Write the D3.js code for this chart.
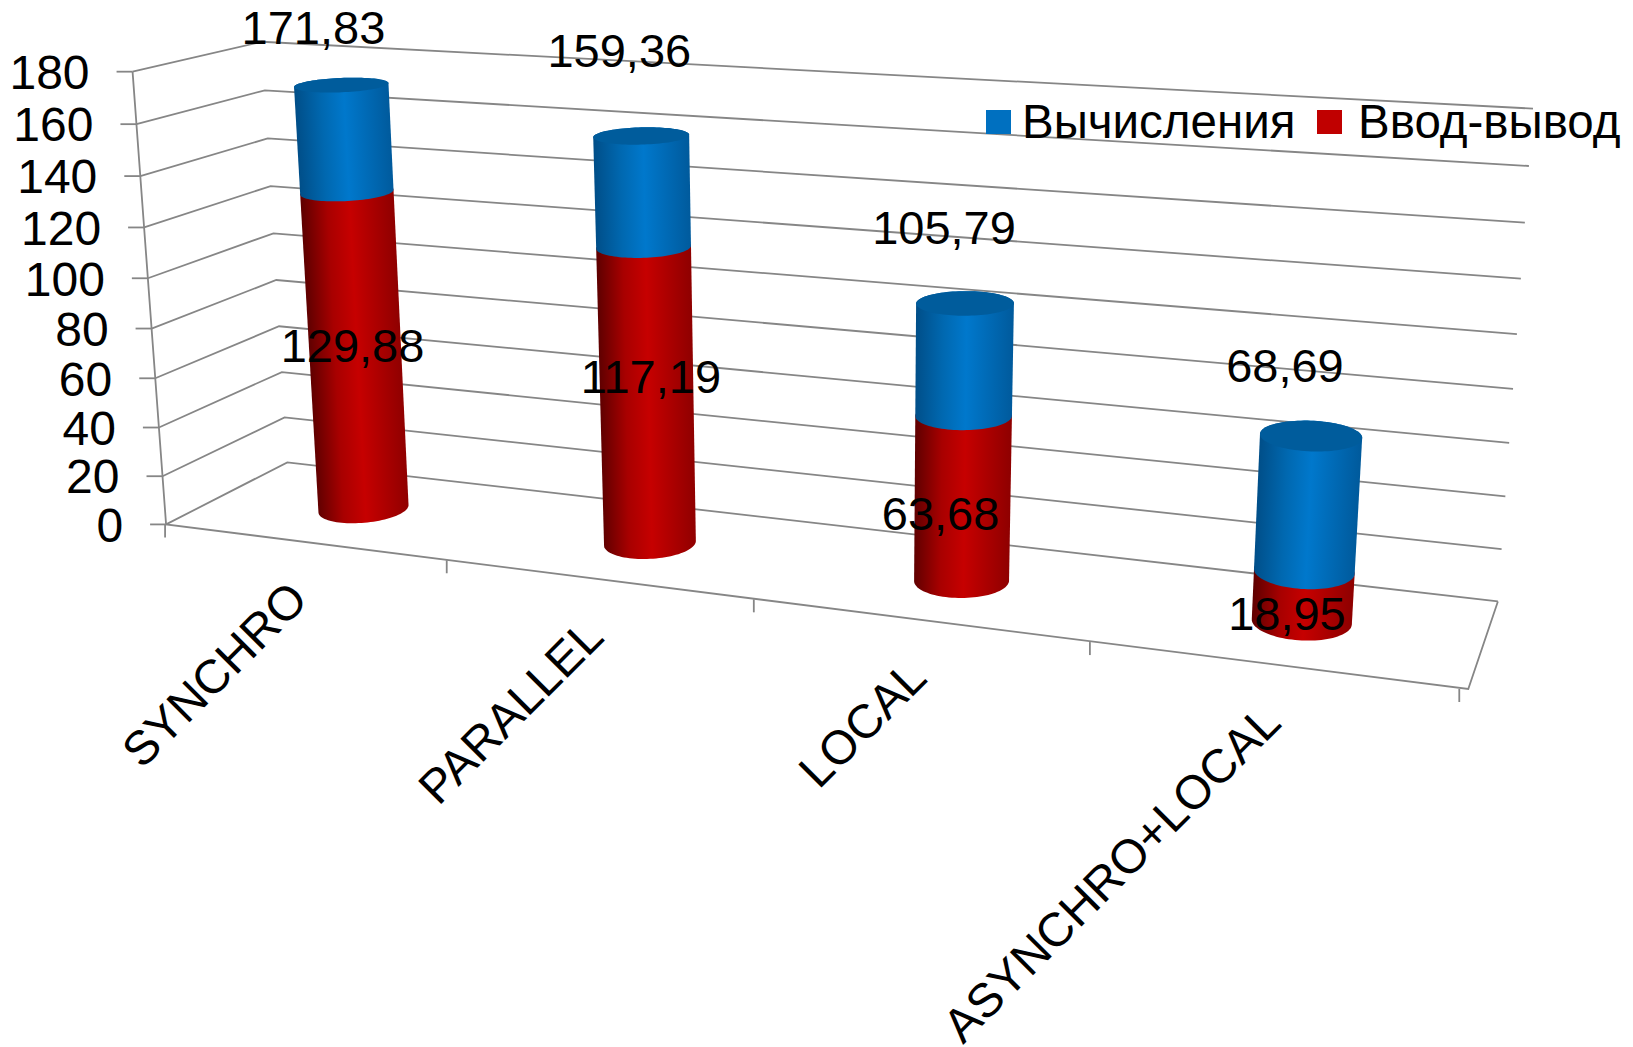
<!DOCTYPE html>
<html lang="ru">
<head>
<meta charset="utf-8">
<title>Вычисления и ввод-вывод</title>
<script src="https://cdn.jsdelivr.net/npm/d3@7"></script>
<style>
  html, body { margin: 0; background: #fff; }
  svg { display: block; }
  text { font-family: "Liberation Sans", Arial, sans-serif; fill: #000; }
</style>
</head>
<body>
<svg id="chart" width="1633" height="1047"></svg>
<script>
// Series values
const categories = ["SYNCHRO", "PARALLEL", "LOCAL", "ASYNCHRO+LOCAL"];
const ioValues = [129.88, 117.19, 63.68, 18.95];
const totalValues = [171.83, 159.36, 105.79, 68.69];
const ioLabels = ["129,88", "117,19", "63,68", "18,95"];
const totalLabels = ["171,83", "159,36", "105,79", "68,69"];
const valueTicks = [0, 20, 40, 60, 80, 100, 120, 140, 160, 180];
const legendNames = ["Вычисления", "Ввод-вывод"];

// Layout: pixel offsets of the value labels from their anchor on the cylinder axis
const totalNudge = [[-28, -58], [-22, -86], [-21, -76], [-26, -71]];
const ioNudge = [[-3, -8], [4, -21], [-22, 14], [-16, 17]];

// Camera calibration: box coordinates [u, v, w] and where they land on the page.
// u runs along the category axis, v up the value axis, w from the front to the back wall.
const cameraPoints = [
  [0, 0, 0, 166, 523.6], [0, 1, 0, 132.7, 71.4],
  [0, 0, 1, 287.3, 462.5], [0, 1, 1, 261.7, 42.1],
  [1, 0, 1, 1498, 601], [1, 1, 1, 1533, 108.5],
  [1, 0, 0, 1468, 689], [0.5, 0, 0, 759, 600.5]
];

function solve(A, b) {
  const n = b.length, M = A.map((row, i) => [...row, b[i]]);
  for (let c = 0; c < n; c++) {
    let p = c;
    for (let r = c + 1; r < n; r++) if (Math.abs(M[r][c]) > Math.abs(M[p][c])) p = r;
    [M[c], M[p]] = [M[p], M[c]];
    for (let r = 0; r < n; r++) {
      if (r === c) continue;
      const f = M[r][c] / M[c][c];
      for (let k = c; k <= n; k++) M[r][k] -= f * M[c][k];
    }
  }
  return M.map((row, i) => row[n] / row[i]);
}

// Least-squares fit of a projective camera to the calibration points
function fitCamera(points) {
  const rows = [], rhs = [];
  for (const [u, v, w, x, y] of points) {
    rows.push([u, v, w, 1, 0, 0, 0, 0, -x * u, -x * v, -x * w]); rhs.push(x);
    rows.push([0, 0, 0, 0, u, v, w, 1, -y * u, -y * v, -y * w]); rhs.push(y);
  }
  const size = 11;
  const AtA = d3.range(size).map(i => d3.range(size).map(j => d3.sum(rows, r => r[i] * r[j])));
  const Atb = d3.range(size).map(i => d3.sum(rows, (r, k) => r[i] * rhs[k]));
  return solve(AtA, Atb);
}

const cam = fitCamera(cameraPoints);
const project = (u, v, w) => {
  const d = cam[8] * u + cam[9] * v + cam[10] * w + 1;
  return [(cam[0] * u + cam[1] * v + cam[2] * w + cam[3]) / d,
          (cam[4] * u + cam[5] * v + cam[6] * w + cam[7]) / d];
};

const yScale = d3.scaleLinear().domain([0, 180]).range([0, 1]);
const uScale = d3.scaleBand().domain(categories).range([0, 1]);
const uCenter = c => uScale(c) + uScale.bandwidth() / 2;

const svg = d3.select("#chart");
const defs = svg.append("defs");
const line = d3.line();
const gridColor = "#868686";

// Walls and floor
const frame = svg.append("g").attr("fill", "none").attr("stroke", gridColor).attr("stroke-width", 1.8);
valueTicks.forEach(t => {
  const v = yScale(t);
  frame.append("path").attr("d", line([project(0, v, 0), project(0, v, 1), project(1, v, 1)]));
  const p = project(0, v, 0);
  frame.append("path").attr("d", line([[p[0] - 16, p[1]], p]));
});
frame.append("path").attr("d", line([project(0, 1, 0), project(0, 0, 0), project(1, 0, 0), project(1, 0, 1)]));
[0, 0.25, 0.5, 0.75, 1].forEach(u => {
  const p = project(u, 0, 0), x = p[0] - 1 - 8 * u;
  frame.append("path").attr("d", line([[x, p[1]], [x, p[1] + 13]]));
});

// Value axis labels
svg.append("g").selectAll("text").data(valueTicks).join("text")
  .attr("x", t => project(0, yScale(t), 0)[0] - 43)
  .attr("y", t => project(0, yScale(t), 0)[1])
  .attr("dy", "0.36em")
  .attr("text-anchor", "end")
  .attr("font-size", 48)
  .text(t => t);

// Category labels, running up to the middle of each band on the front edge
svg.append("g").selectAll("text").data(categories).join("text")
  .attr("transform", c => {
    const p = project(uCenter(c), 0, 0);
    return `translate(${p[0] + 5},${p[1] + 60}) rotate(-45)`;
  })
  .attr("text-anchor", "end")
  .attr("font-size", 47.5)
  .text(c => c);

// Cylinders
const depth = 0.5, radiusU = 0.0345, radiusW = 0.215;
const angles = d3.range(0, 2 * Math.PI, Math.PI / 48);
const ring = (u, v) => angles.map(a => project(u + radiusU * Math.cos(a), v, depth + radiusW * Math.sin(a)));
const palettes = {
  io: ["#8e0000", "#c60000", "#a80000", "#5e0000"],
  calc: ["#005a9c", "#0078cc", "#0068b0", "#004e88"]
};

function drawSegment(group, id, u, v0, v1, colors) {
  const hull = d3.polygonHull(ring(u, v0).concat(ring(u, v1)));
  const b = project(u, v0, depth), t = project(u, v1, depth);
  const left = d3.min(ring(u, v1), p => p[0]) , right = d3.max(ring(u, v1), p => p[0]);
  const half = (right - left) / 2;
  const len = Math.hypot(t[0] - b[0], t[1] - b[1]);
  const nx = (b[1] - t[1]) / len * -1, ny = (t[0] - b[0]) / len * -1;
  const mid = [(b[0] + t[0]) / 2, (b[1] + t[1]) / 2];
  const grad = defs.append("linearGradient").attr("id", id)
    .attr("gradientUnits", "userSpaceOnUse")
    .attr("x1", mid[0] - nx * half).attr("y1", mid[1] - ny * half)
    .attr("x2", mid[0] + nx * half).attr("y2", mid[1] + ny * half);
  [0, 0.48, 0.72, 1].forEach((o, i) => grad.append("stop").attr("offset", o).attr("stop-color", colors[i]));
  group.append("path").attr("d", line(hull) + "Z").attr("fill", `url(#${id})`);
}

const cylinders = svg.append("g");
categories.forEach((c, i) => {
  const u = uCenter(c);
  drawSegment(cylinders, `io-${i}`, u, 0, yScale(ioValues[i]), palettes.io);
  drawSegment(cylinders, `calc-${i}`, u, yScale(ioValues[i]), yScale(totalValues[i]), palettes.calc);
  cylinders.append("path").attr("d", line(ring(u, yScale(totalValues[i]))) + "Z").attr("fill", "#005c9c");
});

// Value labels
const valueLabels = svg.append("g").attr("font-size", 47).attr("text-anchor", "middle");
categories.forEach((c, i) => {
  const u = uCenter(c);
  const top = project(u, yScale(totalValues[i]), depth);
  valueLabels.append("text")
    .attr("x", top[0] + totalNudge[i][0]).attr("y", top[1] + totalNudge[i][1])
    .attr("dy", "0.36em").text(totalLabels[i]);
  const mid = project(u, yScale(ioValues[i] / 2), depth);
  valueLabels.append("text")
    .attr("x", mid[0] + ioNudge[i][0]).attr("y", mid[1] + ioNudge[i][1])
    .attr("dy", "0.36em").text(ioLabels[i]);
});

// Legend
const legend = svg.append("g");
const legendX = [986, 1317], legendColors = ["#0070c0", "#c00000"];
const legendTextX = [1022, 1358];
legendNames.forEach((name, i) => {
  legend.append("rect").attr("x", legendX[i]).attr("y", 110)
    .attr("width", 25).attr("height", 24).attr("fill", legendColors[i]);
  legend.append("text").attr("x", legendTextX[i]).attr("y", 138)
    .attr("font-size", 47.5).text(name);
});
</script>
</body>
</html>
